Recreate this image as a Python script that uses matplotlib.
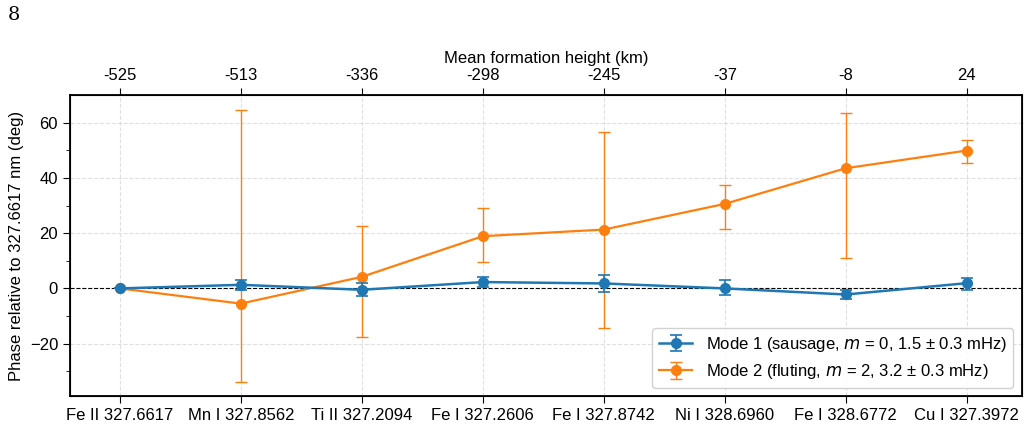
import matplotlib.pyplot as plt
import numpy as np

plt.rcParams['font.family'] = ['Liberation Sans', 'DejaVu Sans']

lines = ['Fe II 327.6617', 'Mn I 327.8562', 'Ti II 327.2094', 'Fe I 327.2606',
         'Fe I 327.8742', 'Ni I 328.6960', 'Fe I 328.6772', 'Cu I 327.3972']
heights = ['-525', '-513', '-336', '-298', '-245', '-37', '-8', '24']

mode1 = [0.0, 1.3, -0.5, 2.3, 1.8, 0.0, -2.2, 1.9]
mode1_lo = [0.0, 1.9, 2.3, 1.9, 3.0, 2.4, 1.8, 2.3]
mode1_hi = [0.0, 1.9, 2.5, 1.9, 2.9, 3.1, 1.8, 2.0]

mode2 = [0.0, -5.5, 4.2, 18.9, 21.3, 30.6, 43.5, 49.9]
mode2_lo = [0.0, 28.2, 21.8, 9.3, 35.5, 9.0, 32.4, 4.5]
mode2_hi = [0.0, 70.2, 18.5, 10.3, 35.3, 6.9, 19.9, 3.8]

x = np.arange(len(lines))

fig = plt.figure(figsize=(10.28, 4.26), dpi=100)
ax = fig.add_axes([0.068, 0.070, 0.926, 0.707])

ax.errorbar(x, mode1, yerr=[mode1_lo, mode1_hi], fmt='-o', color='#1f77b4',
            lw=1.8, ms=7, capsize=4, elinewidth=1.2, capthick=1.2,
            label='Mode 1 (sausage, $m$ = 0, 1.5 ± 0.3 mHz)', zorder=4)
ax.errorbar(x, mode2, yerr=[mode2_lo, mode2_hi], fmt='-o', color='#ff7f0e',
            lw=1.6, ms=7, capsize=4, elinewidth=1.0, capthick=1.0,
            label='Mode 2 (fluting, $m$ = 2, 3.2 ± 0.3 mHz)', zorder=3)
ax.axhline(0, color='black', ls='--', lw=0.8, zorder=2)

ax.set_xlim(-0.413, 7.455)
ax.set_ylim(-39, 70)
ax.set_xticks(x)
ax.set_xticklabels(lines, fontsize=12)
ax.set_yticks([-20, 0, 20, 40, 60])
ax.set_yticks(np.arange(-30, 70, 10), minor=True)
ax.tick_params(axis='y', labelsize=12, length=5)
ax.tick_params(axis='y', which='minor', length=3)
ax.tick_params(axis='x', length=5)
ax.set_ylabel('Phase relative to 327.6617 nm (deg)', fontsize=12)
ax.grid(True, ls='--', color='#cccccc', alpha=0.6, lw=0.8)
for s in ax.spines.values():
    s.set_linewidth(1.3)

top = ax.twiny()
top.set_xlim(ax.get_xlim())
top.set_xticks(x)
top.set_xticklabels(heights, fontsize=12)
top.tick_params(axis='x', length=5)
top.set_xlabel('Mean formation height (km)', fontsize=12)

ax.legend(loc='lower right', fontsize=12, framealpha=0.9)

fig.text(0.008, 0.965, '8', fontsize=14, family='DejaVu Serif', va='center')

fig.savefig('out.png', dpi=100)
